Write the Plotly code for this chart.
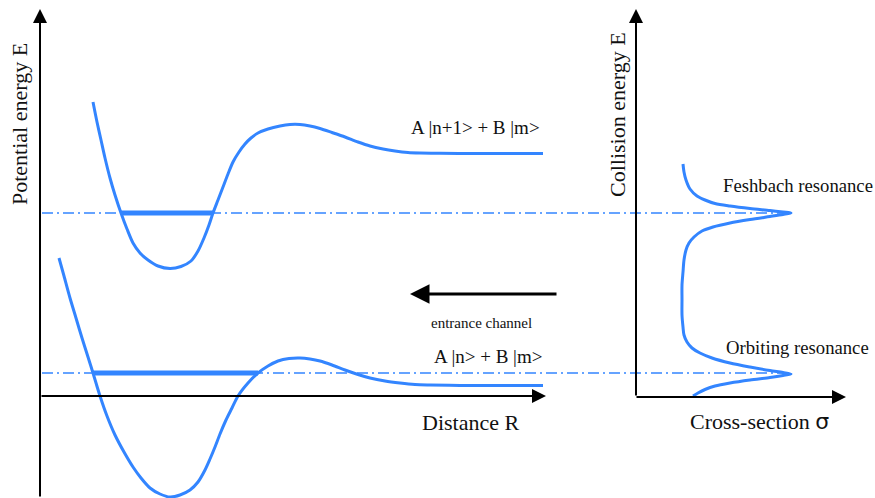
import plotly.graph_objects as go

# Diagram coordinates: horizontal units to the right, vertical units downward (page-like)
BLUE = "#3385ff"
SERIF = "Liberation Serif"

# Upper (closed) channel potential curve
upper_r = [93, 97, 101, 105, 110, 115, 121, 127, 133, 140, 148, 158, 170, 181, 191, 198, 204,
           209, 213, 218, 223, 228, 233, 239, 245, 251, 258, 268, 280, 290, 300, 310, 320, 332,
           345, 358, 370, 383, 395, 408, 420, 440, 470, 543]
upper_e = [102, 122, 140, 158, 178, 195, 213, 229, 243, 253, 260, 266, 268.5, 266.5, 261, 251, 238,
           225, 213, 200, 187, 174, 162, 152, 144, 138, 133, 129, 126, 124.5, 124.5, 126, 128.5,
           132.5, 137, 142, 146, 149, 151, 152.5, 153, 153.3, 153.5, 153.5]

# Lower (entrance) channel potential curve
lower_r = [59, 64, 70, 76, 82, 88, 93, 100, 107, 115, 124, 133, 141, 150, 160, 170, 180, 190,
           198, 205, 210, 215, 220, 226, 232, 238, 248, 258, 268, 278, 289, 300, 310, 320, 332,
           345, 358, 370, 385, 400, 415, 430, 460, 543]
lower_e = [258, 276, 298, 318, 338, 357, 373, 396, 416, 435, 452, 467, 478, 488, 494, 497, 495,
           490, 482, 470, 459, 447, 434, 420, 408, 396, 383, 373, 366, 361, 358.5, 358, 359, 361,
           365, 370, 374.5, 378, 381, 383, 384.5, 385, 385.5, 385.5]

# Bound / quasi-bound levels
upper_level = {"e": 213, "r": [121, 213]}
lower_level = {"e": 373, "r": [93, 258]}

# Cross-section versus collision energy
sigma = [683, 684, 686, 690, 697, 705, 715, 730, 750, 770, 783, 791, 783, 770, 750, 730, 713,
         702, 694, 689, 686, 684, 683, 682, 682, 682, 683, 684, 687, 692, 700, 712, 730, 750,
         770, 783, 791, 783, 770, 750, 730, 715, 705, 698, 693]
coll_e = [164, 172, 180, 189, 196, 200, 203.5, 206, 208.5, 210.5, 212, 213, 214.5, 216.5, 219.5,
          223, 227, 231, 237, 243, 250, 260, 272, 285, 300, 315, 327, 335, 342, 348, 353, 358,
          363, 367, 370.5, 372.5, 374, 375.5, 377.5, 380, 383, 386, 389.5, 393, 396]

fig = go.Figure()

# resonance energies (dash-dot guides)
for lvl in (upper_level, lower_level):
    fig.add_trace(go.Scatter(x=[42, 790], y=[lvl["e"], lvl["e"]], mode="lines",
                             line=dict(color=BLUE, width=1.6, dash="11px,4px,2px,4px"),
                             hoverinfo="skip"))

for xs, ys in ((upper_r, upper_e), (lower_r, lower_e)):
    fig.add_trace(go.Scatter(x=xs, y=ys, mode="lines",
                             line=dict(color=BLUE, width=3, shape="spline", smoothing=0.8),
                             hoverinfo="skip"))

for lvl in (upper_level, lower_level):
    fig.add_trace(go.Scatter(x=lvl["r"], y=[lvl["e"], lvl["e"]], mode="lines",
                             line=dict(color=BLUE, width=5), hoverinfo="skip"))

fig.add_trace(go.Scatter(x=sigma, y=coll_e, mode="lines",
                         line=dict(color=BLUE, width=3, shape="spline", smoothing=0.8),
                         hoverinfo="skip"))

annotations = []

# axes and the entrance-channel arrow
arrows = [
    ((40, 498), (40, 9), 2, 1.4),
    ((40, 396), (546, 396), 2, 1.4),
    ((636, 397), (636, 9), 2, 1.4),
    ((635, 397), (846, 397), 2, 1.4),
    ((558, 294), (410, 294), 3, 1.3),
]
for (tx, ty), (hx, hy), w, size in arrows:
    annotations.append(dict(x=hx, y=hy, ax=tx, ay=ty, xref="x", yref="y", axref="x", ayref="y",
                            showarrow=True, arrowhead=2, arrowsize=size,
                            arrowwidth=w, arrowcolor="black", standoff=0, startstandoff=0,
                            text=""))

labels = [
    ("Potential energy E", 19, 124, 22, -90),
    ("Collision energy E", 617, 115, 22, -90),
    ("Distance R", 470, 422, 22, 0),
    ("Cross-section <span style='font-family:DejaVu Sans'>σ</span>", 759, 421, 22, 0),
    ("A |n+1&gt; + B |m&gt;", 475, 127, 19, 0),
    ("A |n&gt; + B |m&gt;", 488, 356, 19, 0),
    ("entrance channel", 481, 323, 15, 0),
    ("Feshbach resonance", 798, 185, 18.7, 0),
    ("Orbiting resonance", 797, 347, 18.7, 0),
]
for text, x, y, size, ang in labels:
    annotations.append(dict(x=x, y=y, xref="x", yref="y", text=text, showarrow=False,
                            xanchor="center", yanchor="middle", textangle=ang,
                            font=dict(family=SERIF, size=size, color="#111111")))

fig.update_layout(
    width=875, height=498,
    margin=dict(l=0, r=0, t=0, b=0),
    paper_bgcolor="white", plot_bgcolor="white",
    showlegend=False,
    font=dict(family=SERIF),
    xaxis=dict(range=[0, 875], visible=False, fixedrange=True),
    yaxis=dict(range=[498, 0], visible=False, fixedrange=True),
    annotations=annotations,
)

fig.write_html("out.html")
